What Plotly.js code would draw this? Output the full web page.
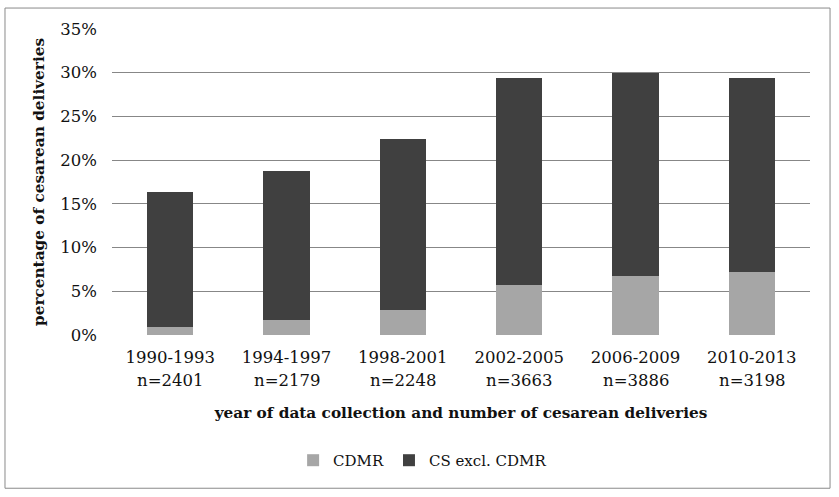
<!DOCTYPE html>
<html>
<head>
<meta charset="utf-8">
<script src="https://cdn.plot.ly/plotly-3.0.1.min.js"></script>
<style>
  html, body { margin: 0; padding: 0; background: #ffffff; }
  #chart { width: 839px; height: 497px; }
</style>
</head>
<body>
<div id="chart"></div>
<script>
// Collection periods and number of cesarean deliveries in each
const periods = ["1990-1993", "1994-1997", "1998-2001", "2002-2005", "2006-2009", "2010-2013"];
const counts = ["n=2401", "n=2179", "n=2248", "n=3663", "n=3886", "n=3198"];

// Share of all deliveries (%) by type of cesarean
const cdmr = [0.9, 1.7, 2.9, 5.7, 6.7, 7.2];
const csExclCdmr = [15.5, 17.1, 19.5, 23.7, 23.3, 22.2];

const yTicks = [0, 5, 10, 15, 20, 25, 30, 35];
const yTickText = yTicks.map(v => v + "%");

const serif = "DejaVu Serif";
const textColor = "#111111";

const traces = [
  {
    type: "bar",
    name: "CDMR",
    x: periods,
    y: cdmr,
    marker: { color: "#a6a6a6" },
    hoverinfo: "skip"
  },
  {
    type: "bar",
    name: "CS excl. CDMR",
    x: periods,
    y: csExclCdmr,
    marker: { color: "#404040" },
    hoverinfo: "skip"
  }
];

// Second line under each period label: the number of deliveries
const countLabels = periods.map((p, i) => ({
  x: p,
  xref: "x",
  y: 0,
  yref: "paper",
  yanchor: "middle",
  yshift: -45,
  text: counts[i],
  showarrow: false,
  font: { family: serif, size: 16.5, color: textColor }
}));

const layout = {
  width: 839,
  height: 497,
  margin: { l: 112, r: 29, t: 29, b: 161.5 },
  paper_bgcolor: "#ffffff",
  plot_bgcolor: "#ffffff",
  barmode: "stack",
  bargap: 0.6,
  showlegend: true,
  legend: {
    orientation: "h",
    traceorder: "normal",
    x: 0.445,
    xanchor: "center",
    y: -0.41,
    yanchor: "middle",
    font: { family: serif, size: 15, color: textColor },
    itemwidth: 30,
    tracegroupgap: 0
  },
  xaxis: {
    type: "category",
    showgrid: false,
    showline: false,
    zeroline: false,
    ticks: "",
    ticklabelstandoff: 10,
    tickfont: { family: serif, size: 16.5, color: textColor },
    title: {
      text: "<b>year of data collection and number of cesarean deliveries</b>",
      font: { family: serif, size: 15.3, color: textColor },
      standoff: 41
    },
    fixedrange: true
  },
  yaxis: {
    range: [0, 35],
    tickvals: yTicks,
    ticktext: yTickText,
    showgrid: true,
    gridcolor: "#878787",
    gridwidth: 1,
    zeroline: false,
    showline: false,
    ticks: "",
    ticklabelstandoff: 14,
    tickfont: { family: serif, size: 16.5, color: textColor },
    title: {
      text: "<b>percentage of cesarean deliveries</b>",
      font: { family: serif, size: 15.3, color: textColor },
      standoff: 11
    },
    fixedrange: true
  },
  shapes: [
    {
      // frame around the whole chart area
      type: "rect",
      xref: "paper",
      yref: "paper",
      x0: -0.1533,
      x1: 1.0287,
      y0: -0.5008,
      y1: 1.0685,
      line: { color: "#8a8a8a", width: 1 },
      fillcolor: "rgba(0,0,0,0)",
      layer: "below"
    }
  ],
  annotations: countLabels
};

Plotly.newPlot("chart", traces, layout, { displayModeBar: false, staticPlot: true });
</script>
</body>
</html>
